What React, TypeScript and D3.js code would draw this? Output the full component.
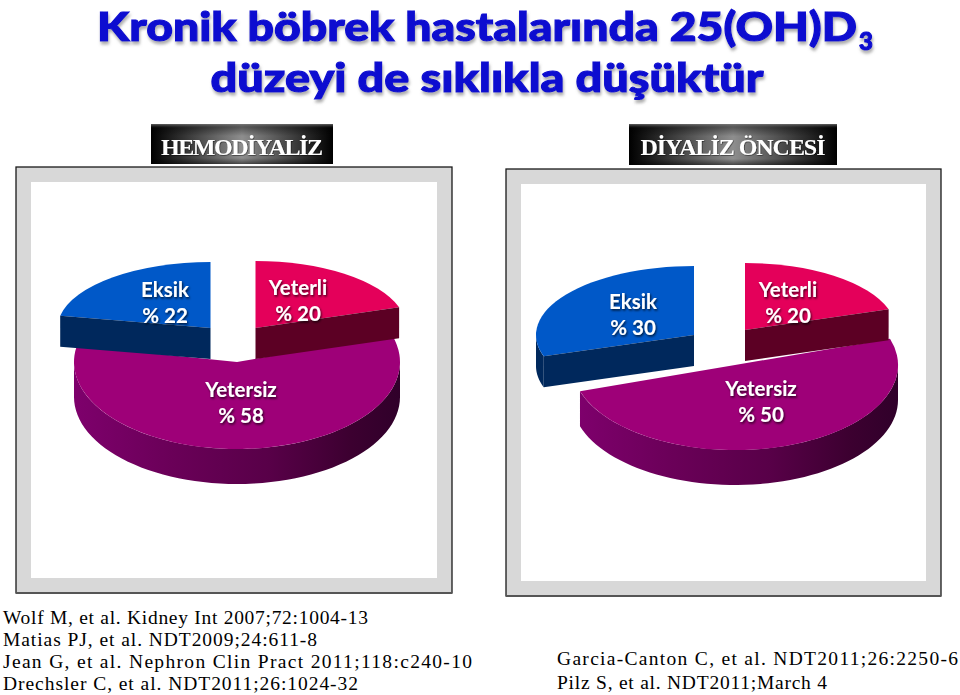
import React from 'react';
import * as d3 from 'd3';

// values
const categories = ['Yeterli', 'Yetersiz', 'Eksik'];
const hemodiyalizValues = [20, 58, 22];
const diyalizOncesiValues = [20, 50, 30];

const titleLines = ['Kronik böbrek hastalarında 25(OH)D', 'düzeyi de sıklıkla düşüktür'];
const panelTitles = ['HEMODİYALİZ', 'DİYALİZ ÖNCESİ'];
const refsLeft = [
  'Wolf M, et al. Kidney Int 2007;72:1004-13',
  'Matias PJ, et al. NDT2009;24:611-8',
  'Jean G, et al. Nephron Clin Pract 2011;118:c240-10',
  'Drechsler C, et al. NDT2011;26:1024-32',
];
const refsRight = [
  'Garcia-Canton C, et al. NDT2011;26:2250-6',
  'Pilz S, et al. NDT2011;March 4',
];

const topColor = d3.scaleOrdinal<string, string>().domain(categories).range(['#e4005a', '#9e0078', '#0058c8']);
const sideColor = d3.scaleOrdinal<string, string>().domain(categories).range(['#5c0024', '#6a0058', '#00285c']);

const DEPTH = 31;
const tau = 2 * Math.PI;

type Geo = { cx: number; cy: number; rx: number; ry: number; depth: number };
type Lab = { x: number; y: number };

// one panel's layout, wedge by wedge
const panels = [
  {
    values: hemodiyalizValues,
    frame: { x: 16, y: 167, w: 436, h: 426 },
    tag: { x: 151, y: 124, w: 182, h: 40 },
    tagLen: 162,
    geo: {
      Yeterli: { cx: 255.5, cy: 328, rx: 151, ry: 67, depth: DEPTH },
      Yetersiz: { cx: 237, cy: 362, rx: 163, ry: 87, depth: 35 },
      Eksik: { cx: 210.5, cy: 328, rx: 153, ry: 66, depth: DEPTH },
    } as Record<string, Geo>,
    labels: {
      Yeterli: { x: 298, y: 295 },
      Yetersiz: { x: 241, y: 397 },
      Eksik: { x: 165, y: 297 },
    } as Record<string, Lab>,
  },
  {
    values: diyalizOncesiValues,
    frame: { x: 506, y: 169, w: 435, h: 427 },
    tag: { x: 629, y: 124, w: 208, h: 41 },
    tagLen: 185,
    geo: {
      Yeterli: { cx: 745, cy: 330, rx: 151, ry: 67, depth: DEPTH },
      Yetersiz: { cx: 735, cy: 365, rx: 163, ry: 85, depth: 35 },
      Eksik: { cx: 694, cy: 335, rx: 158, ry: 69, depth: DEPTH },
    } as Record<string, Geo>,
    labels: {
      Yeterli: { x: 788, y: 297 },
      Yetersiz: { x: 761, y: 396 },
      Eksik: { x: 633, y: 309 },
    } as Record<string, Lab>,
  },
];

const pieLayout = d3.pie<number>().sort(null).startAngle(0).endAngle(tau);

// flat wedge, drawn as a circle arc squashed into an ellipse
const wedgePath = (s: d3.PieArcDatum<number>, g: Geo) =>
  d3.arc<d3.PieArcDatum<number>>().innerRadius(0).outerRadius(g.rx)(s) as string;

const onEllipse = (a: number, g: Geo, dy = 0): [number, number] => [
  g.cx + g.rx * Math.sin(a),
  g.cy - g.ry * Math.cos(a) + dy,
];

const line = d3.line();

// outer rim, only the part of the wedge that faces the viewer
const rimPath = (s: d3.PieArcDatum<number>, g: Geo) => {
  const a0 = Math.max(s.startAngle, Math.PI / 2);
  const a1 = Math.min(s.endAngle, (3 * Math.PI) / 2);
  if (a1 <= a0) return null;
  const angles = d3.range(0, 61).map((i) => a0 + ((a1 - a0) * i) / 60);
  return line([...angles.map((a) => onEllipse(a, g)), ...angles.reverse().map((a) => onEllipse(a, g, g.depth))]) as string;
};

// cut face going from the centre to one corner of the wedge
const cutPath = (a: number, g: Geo) =>
  line([[g.cx, g.cy], onEllipse(a, g), onEllipse(a, g, g.depth), [g.cx, g.cy + g.depth]]) as string;

function Panel({ panel, name, idx }: { panel: (typeof panels)[number]; name: string; idx: number }) {
  const slices = pieLayout(panel.values);
  const { frame, tag } = panel;
  return (
    <g>
      {/* frame */}
      <rect x={frame.x} y={frame.y} width={frame.w} height={frame.h} fill="#d8d8d8" stroke="#1a1a1a" strokeWidth={1.3} />
      <line x1={frame.x} x2={frame.x + frame.w} y1={frame.y + frame.h} y2={frame.y + frame.h} stroke="#555" strokeWidth={2} />
      <rect x={frame.x + 15} y={frame.y + 15} width={frame.w - 30} height={frame.h - 30} fill="#fff" />

      {/* title tag */}
      <rect x={tag.x} y={tag.y} width={tag.w} height={tag.h} fill="url(#tagGrad)" />
      <rect x={tag.x} y={tag.y} width={tag.w} height={tag.h} fill="url(#tagShade)" />
      <text
        x={tag.x + tag.w / 2}
        y={155}
        textAnchor="middle"
        textLength={panel.tagLen}
        lengthAdjust="spacing"
        fontFamily="'Liberation Serif', serif"
        fontWeight="bold"
        fontSize={24}
        fill="#fff"
        filter="url(#tagTextShadow)"
      >
        {name}
      </text>

      {/* big wedge first, the exploded ones sit on top of it */}
      {[1, 0, 2].map((i) => {
        const s = slices[i];
        const cat = categories[i];
        const g = panel.geo[cat];
        const rim = rimPath(s, g);
        return (
          <g key={cat}>
            {rim && <path d={rim} fill={cat === 'Yetersiz' ? `url(#rimGrad${idx})` : sideColor(cat)} />}
            <path
              d={wedgePath(s, g)}
              transform={`translate(${g.cx},${g.cy}) scale(1,${g.ry / g.rx})`}
              fill={topColor(cat)}
            />
            {cat === 'Yeterli' && <path d={cutPath(s.endAngle, g)} fill={sideColor(cat)} />}
            {cat === 'Eksik' && <path d={cutPath(s.startAngle, g)} fill={sideColor(cat)} />}
          </g>
        );
      })}

      {/* wedge labels */}
      {categories.map((cat, i) => {
        const l = panel.labels[cat];
        return (
          <text
            key={cat}
            textAnchor="middle"
            fontFamily="Lato, 'Open Sans', sans-serif"
            fontWeight="bold"
            fontSize={20.5}
            fill="#fff"
            filter="url(#labelShadow)"
          >
            <tspan x={l.x} y={l.y}>{cat}</tspan>
            <tspan x={l.x} y={l.y + 26}>{`% ${panel.values[i]}`}</tspan>
          </text>
        );
      })}
    </g>
  );
}

export default function App() {
  const refLine = (t: string, x: number, y: number, w: number) => (
    <text
      key={t}
      x={x}
      y={y}
      textLength={w}
      lengthAdjust="spacing"
      fontFamily="'Liberation Serif', serif"
      fontSize={19.5}
      fill="#000"
    >
      {t}
    </text>
  );
  return (
    <svg width={960} height={695} style={{ position: 'absolute', left: 0, top: 0, background: '#fff' }}>
      <defs>
        <linearGradient id="tagGrad" x1="0" x2="1" y1="0" y2="0">
          <stop offset="0" stopColor="#000" />
          <stop offset="0.5" stopColor="#8e8e8e" />
          <stop offset="1" stopColor="#000" />
        </linearGradient>
        <linearGradient id="tagShade" x1="0" x2="0" y1="0" y2="1">
          <stop offset="0" stopColor="#777" stopOpacity="0.8" />
          <stop offset="0.1" stopColor="#000" stopOpacity="0.35" />
          <stop offset="0.3" stopColor="#000" stopOpacity="0" />
          <stop offset="0.85" stopColor="#000" stopOpacity="0" />
          <stop offset="1" stopColor="#000" stopOpacity="0.5" />
        </linearGradient>
        {[
          { id: 'rimGrad0', x1: 74, x2: 400 },
          { id: 'rimGrad1', x1: 578, x2: 898 },
        ].map((r) => (
          <linearGradient key={r.id} id={r.id} gradientUnits="userSpaceOnUse" x1={r.x1} x2={r.x2} y1="0" y2="0">
            <stop offset="0" stopColor="#7e006c" />
            <stop offset="0.3" stopColor="#6a0058" />
            <stop offset="0.6" stopColor="#580048" />
            <stop offset="0.85" stopColor="#3c0030" />
            <stop offset="1" stopColor="#30002a" />
          </linearGradient>
        ))}
        <filter id="titleGlow" x="-5%" y="-30%" width="110%" height="170%">
          <feDropShadow dx="1" dy="3" stdDeviation="1.5" floodColor="#777" floodOpacity="0.6" />
        </filter>
        <filter id="labelShadow" x="-20%" y="-20%" width="140%" height="140%">
          <feDropShadow dx="1" dy="1.5" stdDeviation="1" floodColor="#000" floodOpacity="0.75" />
        </filter>
        <filter id="tagTextShadow" x="-10%" y="-20%" width="120%" height="140%">
          <feDropShadow dx="0.5" dy="0.5" stdDeviation="0.6" floodColor="#000" floodOpacity="0.8" />
        </filter>
      </defs>

      {/* slide title */}
      <g fontFamily="Lato, 'Open Sans', sans-serif" fontWeight="900" fill="#0a0ad0" stroke="#0a0ad0" strokeWidth={1.1} filter="url(#titleGlow)">
        <text x={97} y={41} fontSize={40} textLength={760} lengthAdjust="spacingAndGlyphs">{titleLines[0]}</text>
        <text x={859} y={50} fontSize={24}>3</text>
        <text x={487} y={92} fontSize={40} textAnchor="middle" textLength={553} lengthAdjust="spacingAndGlyphs">{titleLines[1]}</text>
      </g>

      {panels.map((p, i) => (
        <Panel key={panelTitles[i]} panel={p} name={panelTitles[i]} idx={i} />
      ))}

      {/* references */}
      {refLine(refsLeft[0], 3, 624, 365)}
      {refLine(refsLeft[1], 3, 646, 314)}
      {refLine(refsLeft[2], 3, 668, 469)}
      {refLine(refsLeft[3], 3, 690, 355)}
      {refLine(refsRight[0], 557, 665, 401)}
      {refLine(refsRight[1], 557, 689, 270)}
    </svg>
  );
}
